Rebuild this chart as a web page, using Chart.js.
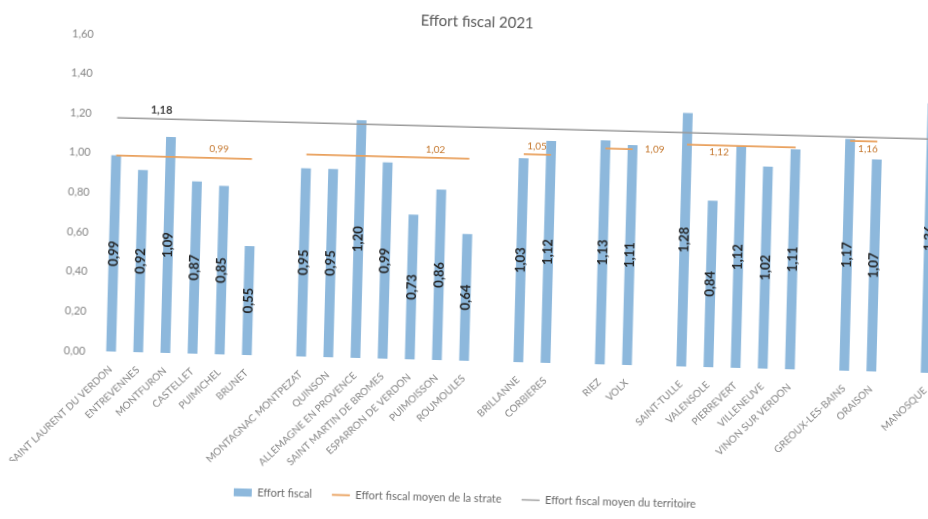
<!DOCTYPE html>
<html>
<head>
<meta charset="utf-8">
<title>Effort fiscal 2021</title>
<script src="https://cdn.jsdelivr.net/npm/chart.js@4.4.1/dist/chart.umd.min.js"></script>
<style>
  html, body { margin: 0; padding: 0; background: #fff; width: 928px; height: 519px; overflow: hidden; }
  #wrap { position: absolute; left: 0; top: 0; width: 950px; height: 519px;
          transform: rotate(1.5deg); transform-origin: 475px 260px; }
  canvas { display: block; }
</style>
</head>
<body>
<div id="wrap"><canvas id="chart" width="950" height="519"></canvas></div>
<script>
// Communes grouped by strate; empty names are spacer slots between groups.
const communes = [
  'SAINT LAURENT DU VERDON', 'ENTREVENNES', 'MONTFURON', 'CASTELLET', 'PUIMICHEL', 'BRUNET',
  '',
  'MONTAGNAC MONTPEZAT', 'QUINSON', 'ALLEMAGNE EN PROVENCE', 'SAINT MARTIN DE BROMES',
  'ESPARRON DE VERDON', 'PUIMOISSON', 'ROUMOULES',
  '',
  'BRILLANNE', 'CORBIERES',
  '',
  'RIEZ', 'VOLX',
  '',
  'SAINT-TULLE', 'VALENSOLE', 'PIERREVERT', 'VILLENEUVE', 'VINON SUR VERDON',
  '',
  'GREOUX-LES-BAINS', 'ORAISON',
  '',
  'MANOSQUE'
];

const effortFiscal = [
  0.99, 0.92, 1.09, 0.87, 0.85, 0.55,
  null,
  0.95, 0.95, 1.20, 0.99, 0.73, 0.86, 0.64,
  null,
  1.03, 1.12,
  null,
  1.13, 1.11,
  null,
  1.28, 0.84, 1.12, 1.02, 1.11,
  null,
  1.17, 1.07,
  null,
  1.36
];

const moyenneStrate = [
  0.99, 0.99, 0.99, 0.99, 0.99, 0.99,
  null,
  1.02, 1.02, 1.02, 1.02, 1.02, 1.02, 1.02,
  null,
  1.05, 1.05,
  null,
  1.09, 1.09,
  null,
  1.12, 1.12, 1.12, 1.12, 1.12,
  null,
  1.16, 1.16,
  null,
  null
];

const moyenneTerritoire = [
  1.18, 1.18, 1.18, 1.18, 1.18, 1.18, 1.18, 1.18, 1.18, 1.18, 1.18,
  1.18, 1.18, 1.18, 1.18, 1.18, 1.18, 1.18, 1.18, 1.18, 1.18, 1.18,
  1.18, 1.18, 1.18, 1.18, 1.18, 1.18, 1.18, 1.18, 1.18
];

const yTicks = [0, 0.2, 0.4, 0.6, 0.8, 1.0, 1.2, 1.4, 1.6];

// Where each average label sits, relative to the line point it belongs to.
const strateLabelSpots = [
  { index: 4,  dx: -6, dy: -9 },
  { index: 12, dx: -7, dy: -8 },
  { index: 15, dx: 13, dy: -8 },
  { index: 19, dx: 22, dy: 0 },
  { index: 22, dx: 5,  dy: 7 },
  { index: 27, dx: 18, dy: 8 }
];
const territoireLabelSpot = { index: 1, dx: 17, dy: -9 };

const FONT = 'Lato, "Open Sans", sans-serif';
const fmt = v => v.toFixed(2).replace('.', ',');

const valueLabels = {
  id: 'valueLabels',
  afterDatasetsDraw(chart) {
    const ctx = chart.ctx;
    ctx.save();
    ctx.textAlign = 'center';
    ctx.textBaseline = 'middle';

    // values written vertically in the middle of each bar
    const bars = chart.getDatasetMeta(0).data;
    ctx.font = 'bold 13px ' + FONT;
    ctx.fillStyle = '#262626';
    bars.forEach((el, i) => {
      const v = effortFiscal[i];
      if (v == null) return;
      ctx.save();
      ctx.translate(el.x, (el.y + el.base) / 2);
      ctx.rotate(-Math.PI / 2);
      ctx.fillText(fmt(v), 0, 0);
      ctx.restore();
    });

    // strate averages
    const strate = chart.getDatasetMeta(1).data;
    ctx.font = '10px ' + FONT;
    ctx.fillStyle = '#C5782F';
    strateLabelSpots.forEach(s => {
      const el = strate[s.index];
      ctx.fillText(fmt(moyenneStrate[s.index]), el.x + s.dx, el.y + s.dy);
    });

    // territory average
    const terr = chart.getDatasetMeta(2).data[territoireLabelSpot.index];
    ctx.font = 'bold 11px ' + FONT;
    ctx.fillStyle = '#404040';
    ctx.fillText(fmt(moyenneTerritoire[territoireLabelSpot.index]),
                 terr.x + territoireLabelSpot.dx, terr.y + territoireLabelSpot.dy);
    ctx.restore();
  }
};

new Chart(document.getElementById('chart'), {
  type: 'bar',
  data: {
    labels: communes,
    datasets: [
      {
        type: 'bar',
        label: 'Effort fiscal',
        data: effortFiscal,
        backgroundColor: '#8DB8DC',
        borderWidth: 0,
        categoryPercentage: 1,
        barPercentage: 0.36,
        pointStyle: 'rect',
        order: 2
      },
      {
        type: 'line',
        label: 'Effort fiscal moyen de la strate',
        data: moyenneStrate,
        borderColor: '#E9A05C',
        backgroundColor: '#E9A05C',
        borderWidth: 1.8,
        pointRadius: 0,
        spanGaps: false,
        pointStyle: 'line',
        order: 1
      },
      {
        type: 'line',
        label: 'Effort fiscal moyen du territoire',
        data: moyenneTerritoire,
        borderColor: '#9A9A9A',
        backgroundColor: '#9A9A9A',
        borderWidth: 1.4,
        pointRadius: 0,
        pointStyle: 'line',
        order: 0
      }
    ]
  },
  options: {
    responsive: false,
    animation: false,
    events: [],
    layout: { padding: { left: 0, right: 8, top: 0, bottom: 5 } },
    plugins: {
      title: {
        display: true,
        text: 'Effort fiscal 2021',
        color: '#595959',
        font: { family: FONT, size: 15, weight: 'normal' },
        padding: { top: 13, bottom: 13 }
      },
      legend: {
        display: true,
        position: 'bottom',
        labels: {
          usePointStyle: true,
          pointStyleWidth: 18,
          boxHeight: 8,
          padding: 20,
          color: '#6A6A6A',
          font: { family: FONT, size: 11 },
          sort: (a, b) => a.datasetIndex - b.datasetIndex
        }
      },
      tooltip: { enabled: false }
    },
    scales: {
      x: {
        offset: true,
        grid: { display: false },
        border: { display: false },
        ticks: {
          autoSkip: false,
          maxRotation: 45,
          minRotation: 45,
          color: '#858585',
          font: { family: FONT, size: 10 },
          padding: 4
        },
        afterFit(scale) { scale.height = 112; }
      },
      y: {
        min: 0,
        max: 1.6,
        grid: { display: false },
        border: { display: false },
        afterBuildTicks(scale) { scale.ticks = yTicks.map(v => ({ value: v })); },
        ticks: {
          color: '#858585',
          font: { family: FONT, size: 11 },
          padding: 4,
          callback: v => fmt(v)
        },
        afterFit(scale) { scale.width = 100; }
      }
    }
  },
  plugins: [valueLabels]
});
</script>
</body>
</html>
